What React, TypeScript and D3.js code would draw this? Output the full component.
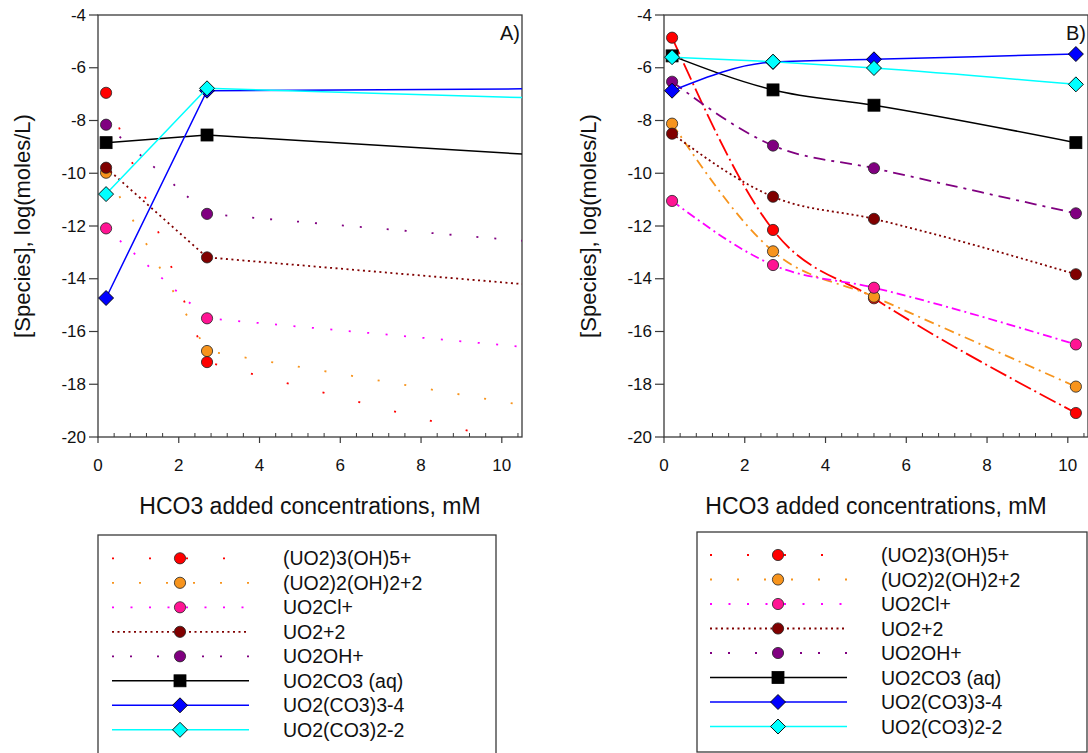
import React from 'react';
import * as d3 from 'd3';

// ---- Data ----
const SPECIES = [
  '(UO2)3(OH)5+',
  '(UO2)2(OH)2+2',
  'UO2Cl+',
  'UO2+2',
  'UO2OH+',
  'UO2CO3 (aq)',
  'UO2(CO3)3-4',
  'UO2(CO3)2-2',
];

const X_TICKS = [0, 2, 4, 6, 8, 10];
const Y_TICKS = [-4, -6, -8, -10, -12, -14, -16, -18, -20];

// Panel A: HCO3 added (mM); last point is where the curves run out of the axis (no marker)
const X_A = [0.2, 2.7, 10.5];
const A_MARKED = 2;
const A_UO2_3_OH_5 = [-6.95, -17.16, -20.3];
const A_UO2_2_OH_2 = [-9.98, -16.74, -18.79];
const A_UO2CL = [-12.09, -15.5, -16.58];
const A_UO2 = [-9.79, -13.19, -14.2];
const A_UO2OH = [-8.16, -11.54, -12.56];
const A_UO2CO3 = [-8.84, -8.55, -9.27];
const A_UO2_CO3_3 = [-14.73, -6.87, -6.8];
const A_UO2_CO3_2 = [-10.79, -6.78, -7.13];

// Panel B
const X_B = [0.2, 2.7, 5.2, 10.2];
const B_MARKED = 4;
const B_UO2_3_OH_5 = [-4.86, -12.15, -14.74, -19.09];
const B_UO2_2_OH_2 = [-8.12, -12.96, -14.68, -18.09];
const B_UO2CL = [-11.05, -13.48, -14.34, -16.49];
const B_UO2 = [-8.5, -10.89, -11.73, -13.83];
const B_UO2OH = [-6.53, -8.95, -9.81, -11.52];
const B_UO2CO3 = [-5.55, -6.84, -7.42, -8.84];
const B_UO2_CO3_3 = [-6.87, -5.78, -5.68, -5.48];
const B_UO2_CO3_2 = [-5.6, -5.77, -6.01, -6.63];

const VALUES_A = [A_UO2_3_OH_5, A_UO2_2_OH_2, A_UO2CL, A_UO2, A_UO2OH, A_UO2CO3, A_UO2_CO3_3, A_UO2_CO3_2];
const VALUES_B = [B_UO2_3_OH_5, B_UO2_2_OH_2, B_UO2CL, B_UO2, B_UO2OH, B_UO2CO3, B_UO2_CO3_3, B_UO2_CO3_2];

// ---- Styles ----
const LINE_COLORS = ['#ff0000', '#f7941d', '#ff00ff', '#800000', '#800080', '#000000', '#0000ff', '#00ffff'];
const FILL_COLORS = ['#ff0000', '#f7941d', '#ff1493', '#800000', '#800080', '#000000', '#0000ff', '#00ffff'];
const MARKERS = ['circle', 'circle', 'circle', 'circle', 'circle', 'square', 'diamond', 'diamond'];
const DASH_A = ['2,35', '2,25', '2,16.5', '2,3.5', '2,16,2,25', undefined, undefined, undefined];
const DASH_B = ['18,4,2,4', '10,5,2,5', '9,4,2,4', '2,3', '12,6,3,6', undefined, undefined, undefined];

const FONT = '"Liberation Sans", Arial, sans-serif';
const AXIS = '#3a3a3a';
const TOP = 15;
const BOTTOM = 437;
const WIDTH = 424;

function Marker({ type, x, y, fill }: { type: string; x: number; y: number; fill: string }) {
  if (type === 'square') {
    return <rect x={x - 6} y={y - 6} width={12} height={12} fill={fill} stroke="#000" strokeWidth={0.8} />;
  }
  if (type === 'diamond') {
    const r = 7.5;
    return (
      <path
        d={`M${x},${y - r}L${x + r},${y}L${x},${y + r}L${x - r},${y}Z`}
        fill={fill}
        stroke="#000"
        strokeWidth={0.9}
      />
    );
  }
  return <circle cx={x} cy={y} r={5.6} fill={fill} stroke="#222" strokeWidth={0.8} />;
}

function Panel({
  left,
  xs,
  values,
  marked,
  dashes,
  label,
  id,
  curve,
}: {
  left: number;
  xs: number[];
  values: number[][];
  marked: number;
  dashes: (string | undefined)[];
  label: string;
  id: string;
  curve: any;
}) {
  const x = d3.scaleLinear().domain([0, 10.5]).range([left, left + WIDTH]);
  const y = d3.scaleLinear().domain([-20, -4]).range([BOTTOM, TOP]);
  const minor = d3.range(0.4, 10.45, 0.4).filter((v) => Math.abs(v / 2 - Math.round(v / 2)) > 1e-6);
  const line = d3
    .line<number>()
    .x((_, i) => x(xs[i]))
    .y((d) => y(d))
    .curve(curve);

  return (
    <g>
      <defs>
        <clipPath id={id}>
          <rect x={left} y={TOP} width={WIDTH} height={BOTTOM - TOP} />
        </clipPath>
      </defs>
      {/* frame */}
      <rect x={left} y={TOP} width={WIDTH} height={BOTTOM - TOP} fill="none" stroke={AXIS} strokeWidth={1.3} />
      {/* y ticks */}
      {Y_TICKS.map((t) => (
        <g key={t}>
          <line x1={left - 9} x2={left} y1={y(t)} y2={y(t)} stroke={AXIS} strokeWidth={1.2} />
          <text
            x={left - 12}
            y={y(t)}
            textAnchor="end"
            dominantBaseline="central"
            fontFamily={FONT}
            fontSize={17}
            fill="#111"
          >
            {t}
          </text>
        </g>
      ))}
      {/* x ticks */}
      {X_TICKS.map((t) => (
        <g key={t}>
          <line x1={x(t)} x2={x(t)} y1={BOTTOM} y2={BOTTOM + 6} stroke={AXIS} strokeWidth={1.2} />
          <text
            x={x(t)}
            y={BOTTOM + 28}
            textAnchor="middle"
            dominantBaseline="central"
            fontFamily={FONT}
            fontSize={17}
            fill="#111"
          >
            {t}
          </text>
        </g>
      ))}
      {minor.map((t) => (
        <line key={t} x1={x(t)} x2={x(t)} y1={BOTTOM} y2={BOTTOM - 4} stroke={AXIS} strokeWidth={1} />
      ))}
      {/* titles */}
      <text
        x={left + WIDTH / 2}
        y={514}
        textAnchor="middle"
        fontFamily={FONT}
        fontSize={23}
        fill="#111"
      >
        HCO3 added concentrations, mM
      </text>
      <text
        transform={`translate(${left - 76},${(TOP + BOTTOM) / 2}) rotate(-90)`}
        textAnchor="middle"
        dominantBaseline="central"
        fontFamily={FONT}
        fontSize={22}
        fill="#111"
      >
        [Species], log(moles/L)
      </text>
      <text x={left + 402} y={33} dominantBaseline="central" fontFamily={FONT} fontSize={20} fill="#111">
        {label}
      </text>
      {/* series */}
      {values.map((vals, si) => (
        <g key={si}>
          <path
            d={line(vals) || ''}
            fill="none"
            stroke={LINE_COLORS[si]}
            strokeWidth={dashes[si] ? 1.8 : 1.5}
            strokeDasharray={dashes[si]}
            clipPath={`url(#${id})`}
          />
          {vals.slice(0, marked).map((v, i) => (
            <Marker key={i} type={MARKERS[si]} x={x(xs[i])} y={y(v)} fill={FILL_COLORS[si]} />
          ))}
        </g>
      ))}
    </g>
  );
}

function Legend({
  left,
  top,
  right,
  bottom,
  row0,
  lineX1,
  lineX2,
  markX,
  textX,
}: {
  left: number;
  top: number;
  right: number;
  bottom: number;
  row0: number;
  lineX1: number;
  lineX2: number;
  markX: number;
  textX: number;
}) {
  return (
    <g>
      <rect x={left} y={top} width={right - left} height={bottom - top} fill="#fff" stroke={AXIS} strokeWidth={1.3} />
      {SPECIES.map((name, i) => {
        const cy = row0 + i * 24.5;
        return (
          <g key={name}>
            <line
              x1={lineX1}
              x2={lineX2}
              y1={cy}
              y2={cy}
              stroke={LINE_COLORS[i]}
              strokeWidth={DASH_A[i] ? 1.8 : 1.5}
              strokeDasharray={DASH_A[i]}
            />
            <Marker type={MARKERS[i]} x={markX} y={cy} fill={FILL_COLORS[i]} />
            <text x={textX} y={cy} dominantBaseline="central" fontFamily={FONT} fontSize={19.5} fill="#111">
              {name}
            </text>
          </g>
        );
      })}
    </g>
  );
}

export default function App() {
  return (
    <svg
      width={1088}
      height={753}
      style={{ position: 'absolute', left: 0, top: 0, display: 'block', background: '#fff' }}
    >
      <rect x={0} y={0} width={1088} height={753} fill="#fff" />
      <Panel
        left={98}
        xs={X_A}
        values={VALUES_A}
        marked={A_MARKED}
        dashes={DASH_A}
        label="A)"
        id="clipA"
        curve={d3.curveLinear}
      />
      <Panel
        left={664}
        xs={X_B}
        values={VALUES_B}
        marked={B_MARKED}
        dashes={DASH_B}
        label="B)"
        id="clipB"
        curve={d3.curveMonotoneX}
      />
      <Legend left={98} top={535} right={496} bottom={770} row0={558.3} lineX1={112} lineX2={249} markX={180} textX={283} />
      <Legend left={697} top={532} right={1087} bottom={752} row0={555} lineX1={710} lineX2={847} markX={778} textX={881} />
    </svg>
  );
}
